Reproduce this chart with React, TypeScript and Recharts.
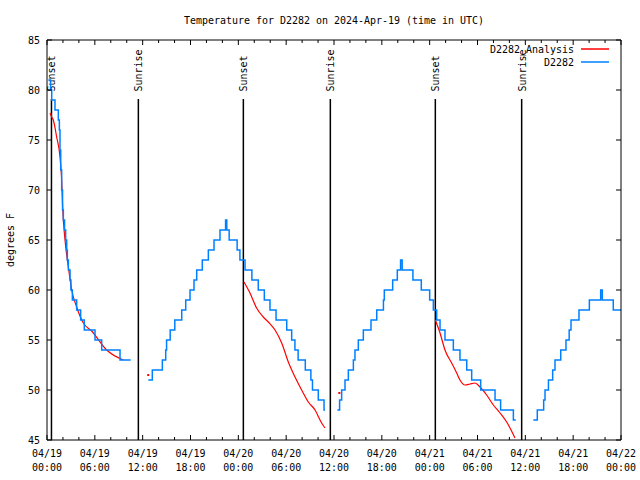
import { ComposedChart, Line, Scatter, XAxis, YAxis, ReferenceLine, Legend } from 'recharts';

// hours since 04/19 00:00 UTC; null breaks the line
const obsHours = [
  0.17, 0.45, 0.59, 1.0, 1.42, 1.55, 1.63, 1.72, 1.84, 1.95, 2.05, 2.2, 2.34, 2.47, 2.55, 2.68, 2.89, 3.0, 3.18,
  3.72, 4.22, 4.68, 6.02, 6.86, 9.16, 10.5, 11.6,
  12.71, 13.21, 14.47, 14.89, 15.0, 15.45, 16.03, 16.9, 17.4, 17.94, 18.44, 18.78, 19.48, 20.24, 20.95, 21.7,
  22.4, 22.55, 22.85, 23.85, 24.2, 24.84, 25.7, 26.5, 27.26, 27.97, 28.73, 30.07, 30.69, 31.1, 31.5, 32.4,
  33.1, 33.3, 34.03, 34.75, 34.88, 35.6,
  36.42, 36.7, 36.96, 37.38, 37.8, 38.43, 38.63, 39.05, 39.68, 40.64, 41.36, 42.2, 42.31, 43.36, 43.94, 44.35,
  44.55, 45.9, 46.95, 48.0, 48.46, 48.88, 49.3, 49.92, 50.97, 51.8, 52.65, 53.27, 54.4, 56.2, 56.9, 58.5, 58.8, 59.9,
  61.0, 61.5, 62.3, 62.47, 62.9, 63.43, 63.72, 64.44, 65.1, 65.5, 65.73, 66.73, 68.03, 69.45, 69.65, 71.03, 72,
];
const obsTemps = [
  81, 80, 79, 78, 77, 76, 74, 72, 70, 68, 67, 66, 65, 64, 63, 62, 61, 60, 59,
  58, 57, 56, 55, 54, 53, 53, null,
  51, 52, 53, 54, 55, 56, 57, 58, 59, 60, 61, 62, 63, 64, 65, 66,
  67, 66, 65, 64, 63, 62, 61, 60, 59, 58, 57, 56, 55, 54, 53, 52,
  51, 50, 49, 48, 48, null,
  48, 49, 50, 51, 52, 53, 54, 55, 56, 57, 58, 59, 60, 61, 62, 63,
  62, 61, 60, 59, 58, 57, 56, 55, 54, 53, 52, 51, 50, 49, 48, 47, 47, null,
  47, 48, 49, 50, 51, 52, 53, 54, 55, 56, 57, 58, 59, 60, 59, 58, 58,
];

const anaHours = [
  0.38, 0.59, 0.79, 1.21, 1.63, 1.84, 1.96, 2.26, 2.68, 3.1, 3.72, 4.56, 5.6, 7.48, 9.57, 11,
  24.71, 25.46, 26.29, 27.13, 27.76, 28.6, 29.44, 30.27, 31.11, 31.94, 32.78, 33.62, 34.45, 34.87, 40,
  48.71, 49.3, 49.92, 50.76, 51.39, 51.8, 52.43, 53.06, 53.69, 54.32, 55.15, 55.99, 56.83, 57.66, 58.08, 58.7,
];
const anaTemps = [
  77.7, 77.3, 77, 75.3, 73.3, 71, 68.3, 65, 62.3, 60, 58.3, 56.7, 55.9, 54, 53, null,
  60.8, 59.7, 58.2, 57.3, 56.8, 56, 54.7, 52.8, 51.3, 50, 48.8, 48, 46.7, 46.2, null,
  57, 55.7, 54, 52.7, 51.7, 51, 50.5, 50.6, 50.7, 50.3, 49.5, 48.5, 47.7, 46.8, 46.2, 45.2,
];
const anaDotHours = [12.7, 36.67];
const anaDotTemps = [51.5, 49.7];

const sunsetHours = [0.56, 24.63, 48.71];
const sunriseHours = [11.46, 35.54, 59.54];

const xTicks = [0, 2, 4, 6, 8, 10, 12, 14, 16, 18, 20, 22, 24, 26, 28, 30, 32, 34, 36, 38, 40, 42, 44, 46, 48, 50, 52, 54, 56, 58, 60, 62, 64, 66, 68, 70, 72];
const majorHours = [0, 6, 12, 18, 24, 30, 36, 42, 48, 54, 60, 66, 72];
const dayLabels = ['04/19', '04/19', '04/19', '04/19', '04/20', '04/20', '04/20', '04/20', '04/21', '04/21', '04/21', '04/21', '04/22'];
const timeLabels = ['00:00', '06:00', '12:00', '18:00', '00:00', '06:00', '12:00', '18:00', '00:00', '06:00', '12:00', '18:00', '00:00'];
const yTicks = [45, 50, 55, 60, 65, 70, 75, 80, 85];

const obsData = obsHours.map((h, i) => ({ h, t: obsTemps[i] }));
const anaData = anaHours.map((h, i) => ({ h, t: anaTemps[i] }));
const dotData = anaDotHours.map((h, i) => ({ h, t: anaDotTemps[i] }));

const FONT = '"DejaVu Sans Mono", "Liberation Mono", monospace';
const RED = '#ff0000';
const BLUE = '#0080ff';

const Txt = ({ x, y, s, anchor = 'middle', rotate = false }: any) => (
  <text
    x={x}
    y={y}
    fontFamily={FONT}
    fontSize={11}
    fill="#000"
    textAnchor={anchor}
    textLength={s.length * 6}
    lengthAdjust="spacingAndGlyphs"
    transform={rotate ? `rotate(-90 ${x} ${y})` : undefined}
  >
    {s}
  </text>
);

const BottomTick = ({ x, y, payload }: any) => {
  const k = majorHours.indexOf(payload.value);
  return (
    <g>
      <line x1={x} x2={x} y1={y} y2={y - (k >= 0 ? 5 : 3)} stroke="#000" />
      {k >= 0 && <Txt x={x} y={y + 17} s={dayLabels[k]} />}
      {k >= 0 && <Txt x={x} y={y + 31} s={timeLabels[k]} />}
    </g>
  );
};

const TopTick = ({ x, y, payload }: any) => {
  const major = majorHours.includes(payload.value);
  return <line x1={x} x2={x} y1={y} y2={y + (major ? 5 : 3)} stroke="#000" />;
};

const LeftTick = ({ x, y, payload }: any) => (
  <g>
    <line x1={x} x2={x + 5} y1={y} y2={y} stroke="#000" />
    <Txt x={x - 7} y={y + 4} s={String(payload.value)} anchor="end" />
  </g>
);

const RightTick = ({ x, y }: any) => <line x1={x} x2={x - 5} y1={y} y2={y} stroke="#000" />;

const sunLabel = (text: string) => (p: any) => {
  const vb = p.viewBox || {};
  return <Txt x={vb.x + 4} y={vb.y - 7.5} s={text} anchor="start" rotate />;
};

const renderLegend = () => (
  <svg width={140} height={30}>
    <Txt x={94} y={13} s="D2282_Analysis" anchor="end" />
    <line x1={101} x2={129} y1={9} y2={9} stroke={RED} strokeWidth={1.5} />
    <Txt x={94} y={26} s="D2282" anchor="end" />
    <line x1={101} x2={129} y1={22} y2={22} stroke={BLUE} strokeWidth={1.5} />
  </svg>
);

export default function App() {
  return (
    <div style={{ position: 'absolute', left: 0, top: 0, width: 640, height: 480, background: '#fff' }}>
      <ComposedChart width={640} height={480} margin={{ top: 0, right: 0, bottom: 0, left: 0 }}>
        <XAxis
          xAxisId="b"
          dataKey="h"
          type="number"
          domain={[0, 72]}
          allowDataOverflow
          ticks={xTicks}
          interval={0}
          height={40}
          tickSize={0}
          tickMargin={0}
          tickLine={false}
          axisLine={{ stroke: '#000' }}
          tick={BottomTick}
        />
        <XAxis
          xAxisId="t"
          orientation="top"
          dataKey="h"
          type="number"
          domain={[0, 72]}
          allowDataOverflow
          ticks={xTicks}
          interval={0}
          height={40}
          tickSize={0}
          tickMargin={0}
          tickLine={false}
          axisLine={{ stroke: '#000' }}
          tick={TopTick}
          label={(p: any) => (
            <Txt x={334} y={24} s="Temperature for D2282 on 2024-Apr-19 (time in UTC)" />
          )}
        />
        <YAxis
          yAxisId="l"
          type="number"
          domain={[45, 85]}
          allowDataOverflow
          ticks={yTicks}
          interval={0}
          width={47}
          tickSize={0}
          tickMargin={0}
          tickLine={false}
          axisLine={{ stroke: '#000' }}
          tick={LeftTick}
          label={(p: any) => <Txt x={14} y={240} s="degrees F" rotate />}
        />
        <YAxis
          yAxisId="r"
          orientation="right"
          type="number"
          domain={[45, 85]}
          allowDataOverflow
          ticks={yTicks}
          interval={0}
          width={19}
          tickSize={0}
          tickMargin={0}
          tickLine={false}
          axisLine={{ stroke: '#000' }}
          tick={RightTick}
        />
        {sunsetHours.map((h) => (
          <ReferenceLine
            key={'ss' + h}
            xAxisId="b"
            yAxisId="l"
            segment={[{ x: h, y: 79.1 }, { x: h, y: 45 }]}
            stroke="#000"
            strokeWidth={1.5}
            label={sunLabel('Sunset')}
          />
        ))}
        {sunriseHours.map((h) => (
          <ReferenceLine
            key={'sr' + h}
            xAxisId="b"
            yAxisId="l"
            segment={[{ x: h, y: 79.1 }, { x: h, y: 45 }]}
            stroke="#000"
            strokeWidth={1.5}
            label={sunLabel('Sunrise')}
          />
        ))}
        <Line
          xAxisId="b"
          yAxisId="l"
          data={anaData}
          dataKey="t"
          type="monotone"
          stroke={RED}
          strokeWidth={1.2}
          dot={false}
          isAnimationActive={false}
        />
        <Scatter
          xAxisId="b"
          yAxisId="l"
          data={dotData}
          dataKey="t"
          isAnimationActive={false}
          shape={(p: any) => <rect x={p.cx - 1} y={p.cy - 1} width={2} height={2} fill={RED} />}
        />
        <Line
          xAxisId="b"
          yAxisId="l"
          data={obsData}
          dataKey="t"
          type="stepAfter"
          stroke={BLUE}
          strokeWidth={1.5}
          dot={false}
          isAnimationActive={false}
        />
        <Legend
          layout="horizontal"
          verticalAlign="middle"
          align="center"
          content={renderLegend}
          wrapperStyle={{ position: 'absolute', left: 480, top: 40, width: 140, height: 30 }}
        />
      </ComposedChart>
    </div>
  );
}
